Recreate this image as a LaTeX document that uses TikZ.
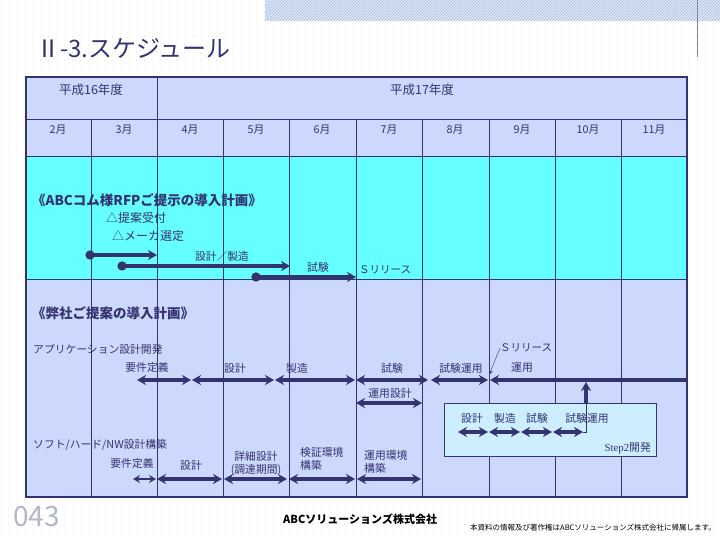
\documentclass[tikz,border=0pt]{standalone}
\usepackage{fontspec}
\setmainfont{Noto Sans CJK JP}
\newfontfamily\stepfont{Liberation Serif}
\usetikzlibrary{arrows.meta,patterns}
\definecolor{navy}{RGB}{51,51,112}
\definecolor{lav}{RGB}{204,216,252}
\definecolor{aqua}{RGB}{102,255,255}
\definecolor{pale}{RGB}{204,238,255}
\definecolor{hatchblue}{RGB}{160,185,222}
\definecolor{pagegray}{RGB}{176,184,200}

\begin{document}
\begin{tikzpicture}[x=1pt,y=-1pt,
    lbl/.style={text=navy,inner sep=0pt,font=\fontsize{10.8}{13}\selectfont},
    head/.style={lbl,anchor=west,font=\bfseries\fontsize{13.5}{15}\selectfont},
    bar/.style={navy,line width=3.4pt},
    span/.style={bar,{Stealth[length=9pt,width=10pt]}-{Stealth[length=9pt,width=10pt]}},
    start/.style={bar,{Circle[length=9pt]}-{Stealth[length=9pt,width=10pt]}}]
  \useasboundingbox (0,0) rectangle (720,540);

  % page background
  \foreach \y in {4,12,...,540}
    \draw[gray!25,line width=0.7pt,dash pattern=on 0.7pt off 7.3pt] (0,\y) -- (720,\y);
  \fill[hatchblue!30] (265,0) rectangle (720,21);
  \fill[pattern=north east lines,pattern color=hatchblue] (265,0) rectangle (720,21);
  \draw[navy!60,line width=0.8pt] (697,0) -- (697,57);

  \node (title) at (36,48) [anchor=west,text=navy,inner sep=0pt,font=\fontsize{24}{26}\selectfont] {Ⅱ-3.スケジュール};

  % table
  \fill[lav] (26,77) rectangle (687,156);
  \fill[aqua] (26,156) rectangle (687,279);
  \fill[lav] (26,279) rectangle (687,497);
  \draw[navy] (26,119) -- (687,119);
  \draw[navy] (26,156) -- (687,156);
  \draw[navy] (26,279) -- (687,279);
  \draw[navy] (157,77) -- (157,119);
  \foreach \x in {91,157,223,289,356,422,489,555,621}
    \draw[navy] (\x,119) -- (\x,497);
  \draw[navy,line width=1.6pt] (26,77) rectangle (687,497);

  \node (y16) at (91,90) [lbl,font=\fontsize{12.5}{14}\selectfont] {平成16年度};
  \node (y17) at (422,90) [lbl,font=\fontsize{12.5}{14}\selectfont] {平成17年度};

  \node (m2) at (58,130) [lbl] {2月};
  \node (m3) at (124,130) [lbl] {3月};
  \node (m4) at (190,130) [lbl] {4月};
  \node (m5) at (256,130) [lbl] {5月};
  \node (m6) at (322,130) [lbl] {6月};
  \node (m7) at (389,130) [lbl] {7月};
  \node (m8) at (455,130) [lbl] {8月};
  \node (m9) at (522,130) [lbl] {9月};
  \node (m10) at (588,130) [lbl] {10月};
  \node (m11) at (654,130) [lbl] {11月};

  % ABC plan
  \node (rfp) at (32,200) [head] {《ABCコム様RFPご提示の導入計画》};
  \node (recv) at (106,218) [lbl,anchor=west,font=\fontsize{12}{14}\selectfont] {△提案受付};
  \node (maker) at (112,236) [lbl,anchor=west,font=\fontsize{12}{14}\selectfont] {△メーカ選定};
  \node (mk) at (222,256) [lbl] {設計／製造};
  \node (ts) at (318,267) [lbl] {試験};
  \node (rel1) at (359,270) [lbl,anchor=west,font=\fontsize{10.5}{12}\selectfont] {Ｓリリース};
  \draw[start] (85.5,255) -- (157,255);
  \draw[start] (117.5,266) -- (290,266);
  \draw[start] (251.5,277) -- (356,277);

  % our plan
  \node (ours) at (32,313) [head] {《弊社ご提案の導入計画》};
  \node (app) at (33,349) [lbl,anchor=west] {アプリケーション設計開発};
  \node (a1) at (147,367) [lbl] {要件定義};
  \node (a2) at (235,368) [lbl] {設計};
  \node (a3) at (297,368) [lbl] {製造};
  \node (a4) at (392,368) [lbl] {試験};
  \node (a5) at (461,368) [lbl] {試験運用};
  \node (a6) at (522,368) [lbl] {運用};
  \node (rel2) at (500,348) [lbl,anchor=west,font=\fontsize{10.5}{12}\selectfont] {Ｓリリース};
  \node (opd) at (390,393) [lbl] {運用設計};
  \draw[span] (137,380) -- (191,380);
  \draw[span] (192,380) -- (274,380);
  \draw[span] (275,380) -- (355,380);
  \draw[span] (356,380) -- (428,380);
  \draw[span] (431,380) -- (488,380);
  \draw[bar,{Stealth[length=9pt,width=10pt]}-] (490,380) -- (687,380);
  \draw[span] (356,403) -- (422,403);
  \coordinate (relpt) at (489,375);
  \draw[navy,-{Stealth[length=5pt,width=4pt]}] (rel2.west) -- (relpt);

  % step2
  \draw[navy,fill=pale] (444,403) rectangle (656,456);
  \node (s1) at (472,418) [lbl] {設計};
  \node (s2) at (505,418) [lbl] {製造};
  \node (s3) at (537,418) [lbl] {試験};
  \node (s4) at (587,418) [lbl] {試験運用};
  \node (step2) at (651,448) [lbl,anchor=east] {{\stepfont Step2}開発};
  \draw[span] (458,432) -- (488,432);
  \draw[span] (489,432) -- (520,432);
  \draw[span] (521,432) -- (552,432);
  \draw[span] (553,432) -- (583,432);
  \coordinate (up) at (586,403);
  \coordinate (join) at (586,382);
  \draw[navy] (583,432) -| (up);
  \draw[bar,-{Stealth[length=9pt,width=10pt]}] (up) -- (join);

  % soft/hard
  \node (nw) at (33,445) [lbl,anchor=west] {ソフト/ハード/NW設計構築};
  \node (b1) at (132,463) [lbl] {要件定義};
  \node (b2) at (191,465) [lbl] {設計};
  \node (b3) at (256,464) [lbl,align=center] {詳細設計\\(調達期間)};
  \node (b4) at (300,459) [lbl,anchor=west,align=left] {検証環境\\構築};
  \node (b5) at (364,462) [lbl,anchor=west,align=left] {運用環境\\構築};
  \draw[navy,line width=2.4pt,{Stealth[length=7pt,width=8pt]}-{Stealth[length=7pt,width=8pt]}] (133,479) -- (156,479);
  \draw[span] (157,479) -- (222,479);
  \draw[span] (224,479) -- (287,479);
  \draw[span] (289,479) -- (355,479);
  \draw[span] (357,479) -- (421,479);

  % footer
  \node (pg) at (13,517) [anchor=west,inner sep=0pt,text=pagegray,font=\fontsize{28}{30}\selectfont] {043};
  \node (corp) at (283,519) [anchor=west,inner sep=0pt,font=\bfseries\fontsize{11}{13}\selectfont] {ABCソリューションズ株式会社};
  \node (copy) at (470,528) [anchor=west,inner sep=0pt,font=\fontsize{7.5}{9}\selectfont] {本資料の情報及び著作権はABCソリューションズ株式会社に帰属します。};
\end{tikzpicture}
\end{document}
